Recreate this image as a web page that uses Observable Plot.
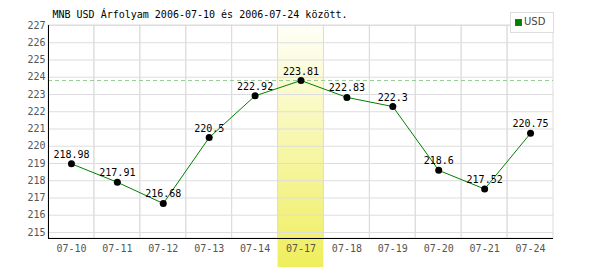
<!DOCTYPE html>
<html>
<head>
<meta charset="utf-8">
<script src="https://cdn.jsdelivr.net/npm/d3@7"></script>
<script src="https://cdn.jsdelivr.net/npm/@observablehq/plot@0.6"></script>
<style>
  body { margin: 0; background: #fff; }
  #wrap { position: relative; width: 600px; height: 270px; }
  #legend { position: absolute; left: 510px; top: 12px; width: 42px; height: 19px; border: 1px solid #ddd; background: #fff;
            font: 10px "DejaVu Sans"; color: #444; }
  #legend .sw { position: absolute; left: 4px; top: 6px; width: 5px; height: 5px; background: #008000; border: 1px solid #555; }
  #legend .lb { position: absolute; left: 13px; top: 3px; }
</style>
</head>
<body>
<div id="wrap"></div>
<script>
const dates = ["07-10","07-11","07-12","07-13","07-14","07-17","07-18","07-19","07-20","07-21","07-24"];
const usd = [218.98, 217.91, 216.68, 220.5, 222.92, 223.81, 222.83, 222.3, 218.6, 217.52, 220.75];
const yTicks = [215,216,217,218,219,220,221,222,223,224,225,226,227];
const highlight = "07-17";
const title = "MNB USD Árfolyam 2006-07-10 és 2006-07-24 között.";
const seriesName = "USD";

const data = dates.map((d, i) => ({date: d, v: usd[i]}));
const yMin = 214.65, yMax = 227;
const maxV = d3.max(usd);

const defs = () => {
  const g = d3.create("svg:defs");
  const lg = g.append("linearGradient").attr("id", "hl").attr("x1", 0).attr("y1", 0).attr("x2", 0).attr("y2", 1);
  lg.append("stop").attr("offset", "0%").attr("stop-color", "#fffff8");
  lg.append("stop").attr("offset", "100%").attr("stop-color", "#efee5c");
  return g.node();
};
const leftLine = (index, scales, values, dim) => {
  return d3.create("svg:line")
    .attr("x1", dim.marginLeft + 0.5).attr("x2", dim.marginLeft + 0.5)
    .attr("y1", dim.marginTop).attr("y2", dim.height - dim.marginBottom)
    .attr("stroke", "#000").node();
};

const plot = Plot.plot({
  width: 600,
  height: 270,
  marginTop: 25,
  marginBottom: 32,
  marginLeft: 48,
  marginRight: 47,
  style: {fontFamily: "'DejaVu Sans Mono', monospace", fontSize: "10px", background: "#fff", overflow: "visible"},
  x: {type: "band", domain: dates, padding: 0, round: false},
  y: {domain: [yMin, yMax], nice: false},
  marks: [
    defs,
    Plot.barY([highlight], {x: d => d, y1: yMin - 1.68, y2: yMax, fill: "url(#hl)"}),
    Plot.ruleY(yTicks, {stroke: "#ddd"}),
    Plot.barY(dates, {x: d => d, y1: yMin, y2: yMax, fill: "none", stroke: "#ddd"}),
    Plot.ruleY([maxV], {stroke: "#9c9", strokeDasharray: "4,3"}),
    Plot.axisY({ticks: yTicks, tickSize: 0, tickPadding: 3, color: "#555", label: null}),
    Plot.axisX({tickSize: 0, tickPadding: 6, color: "#555", label: null}),
    Plot.ruleY([yMin], {stroke: "#000"}),
    leftLine,
    Plot.line(data, {x: "date", y: "v", stroke: "#008000", strokeWidth: 1}),
    Plot.dot(data, {x: "date", y: "v", r: 3.5, fill: "#000", stroke: "none"}),
    Plot.text(data, {x: "date", y: "v", text: d => String(d.v), dy: -6, lineAnchor: "bottom", fill: "#000"}),
    Plot.text([title], {frameAnchor: "top-left", dx: 4, dy: -11, lineAnchor: "middle", textAnchor: "start", fill: "#000", text: d => d})
  ]
});

const wrap = document.getElementById("wrap");
wrap.appendChild(plot);
const lg = document.createElement("div");
lg.id = "legend";
lg.innerHTML = '<div class="sw"></div><div class="lb"></div>';
lg.querySelector(".lb").textContent = seriesName;
wrap.appendChild(lg);
</script>
</body>
</html>
